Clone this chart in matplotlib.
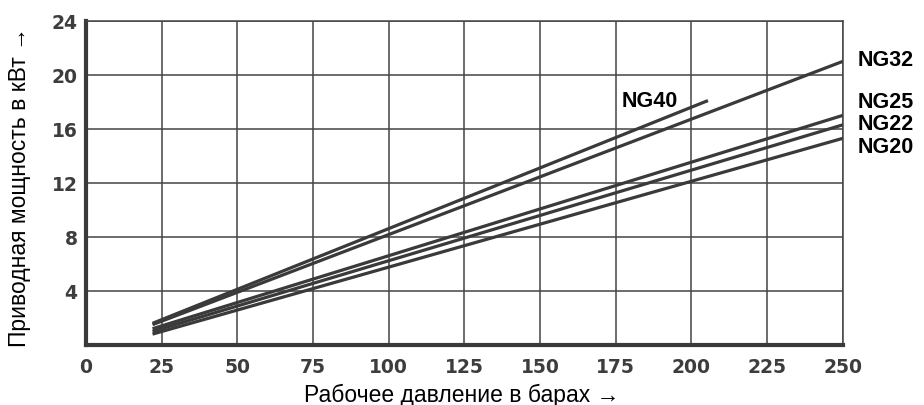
import matplotlib.pyplot as plt

# pressure (bar) vs drive power (kW), endpoints
SIZES = ["NG40", "NG32", "NG25", "NG22", "NG20"]
P_START = [22, 22, 22, 22, 22]
P_END = [205.5, 250, 250, 250, 250]
KW_START = [1.6, 1.5, 1.2, 1.0, 0.8]
KW_END = [18.1, 21.0, 17.0, 16.3, 15.3]

X_TICKS = [0, 25, 50, 75, 100, 125, 150, 175, 200, 225, 250]
Y_TICKS = [4, 8, 12, 16, 20, 24]

# label anchor (left edge, baseline) for each curve name
LABEL_X = [177, 255, 255, 255, 255]
LABEL_Y = [17.7, 20.74, 17.6, 16.0, 14.32]

LINE_COLOR = "#3a3a3a"
TICK_COLOR = "#3d3d3d"

fig = plt.figure(figsize=(9.24, 4.06), dpi=100)
ax = fig.add_axes([0.093, 0.148, 0.819, 0.798])

for i, name in enumerate(SIZES):
    ax.plot([P_START[i], P_END[i]], [KW_START[i], KW_END[i]],
            color=LINE_COLOR, linewidth=2.3, solid_capstyle="butt", zorder=3)
    ax.text(LABEL_X[i], LABEL_Y[i], name, ha="left", va="baseline",
            fontsize=15.5, fontweight="bold", family="Liberation Sans",
            clip_on=False)

ax.set_xlim(0, 250)
ax.set_ylim(0, 24)
ax.set_xticks(X_TICKS)
ax.set_yticks(Y_TICKS)
ax.grid(True, color="#444444", linewidth=1.1)
ax.tick_params(length=0, labelsize=13.5, colors=TICK_COLOR)
ax.tick_params(axis="x", pad=9)
ax.tick_params(axis="y", pad=6)
for lab in ax.get_xticklabels() + ax.get_yticklabels():
    lab.set_fontweight("bold")

for side in ["left", "bottom"]:
    ax.spines[side].set_linewidth(3)
    ax.spines[side].set_color("#3a3a3a")
for side in ["top", "right"]:
    ax.spines[side].set_linewidth(1.1)
    ax.spines[side].set_color("#444444")

ax.set_xlabel("Рабочее давление в барах →", fontsize=16.5, family="Liberation Sans")
ax.set_ylabel("Приводная мощность в кВт →", fontsize=16.5, family="Liberation Sans")
ax.xaxis.set_label_coords(0.497, -0.117)
ax.yaxis.set_label_coords(-0.072, 0.492)

fig.savefig("out.png", dpi=100)
